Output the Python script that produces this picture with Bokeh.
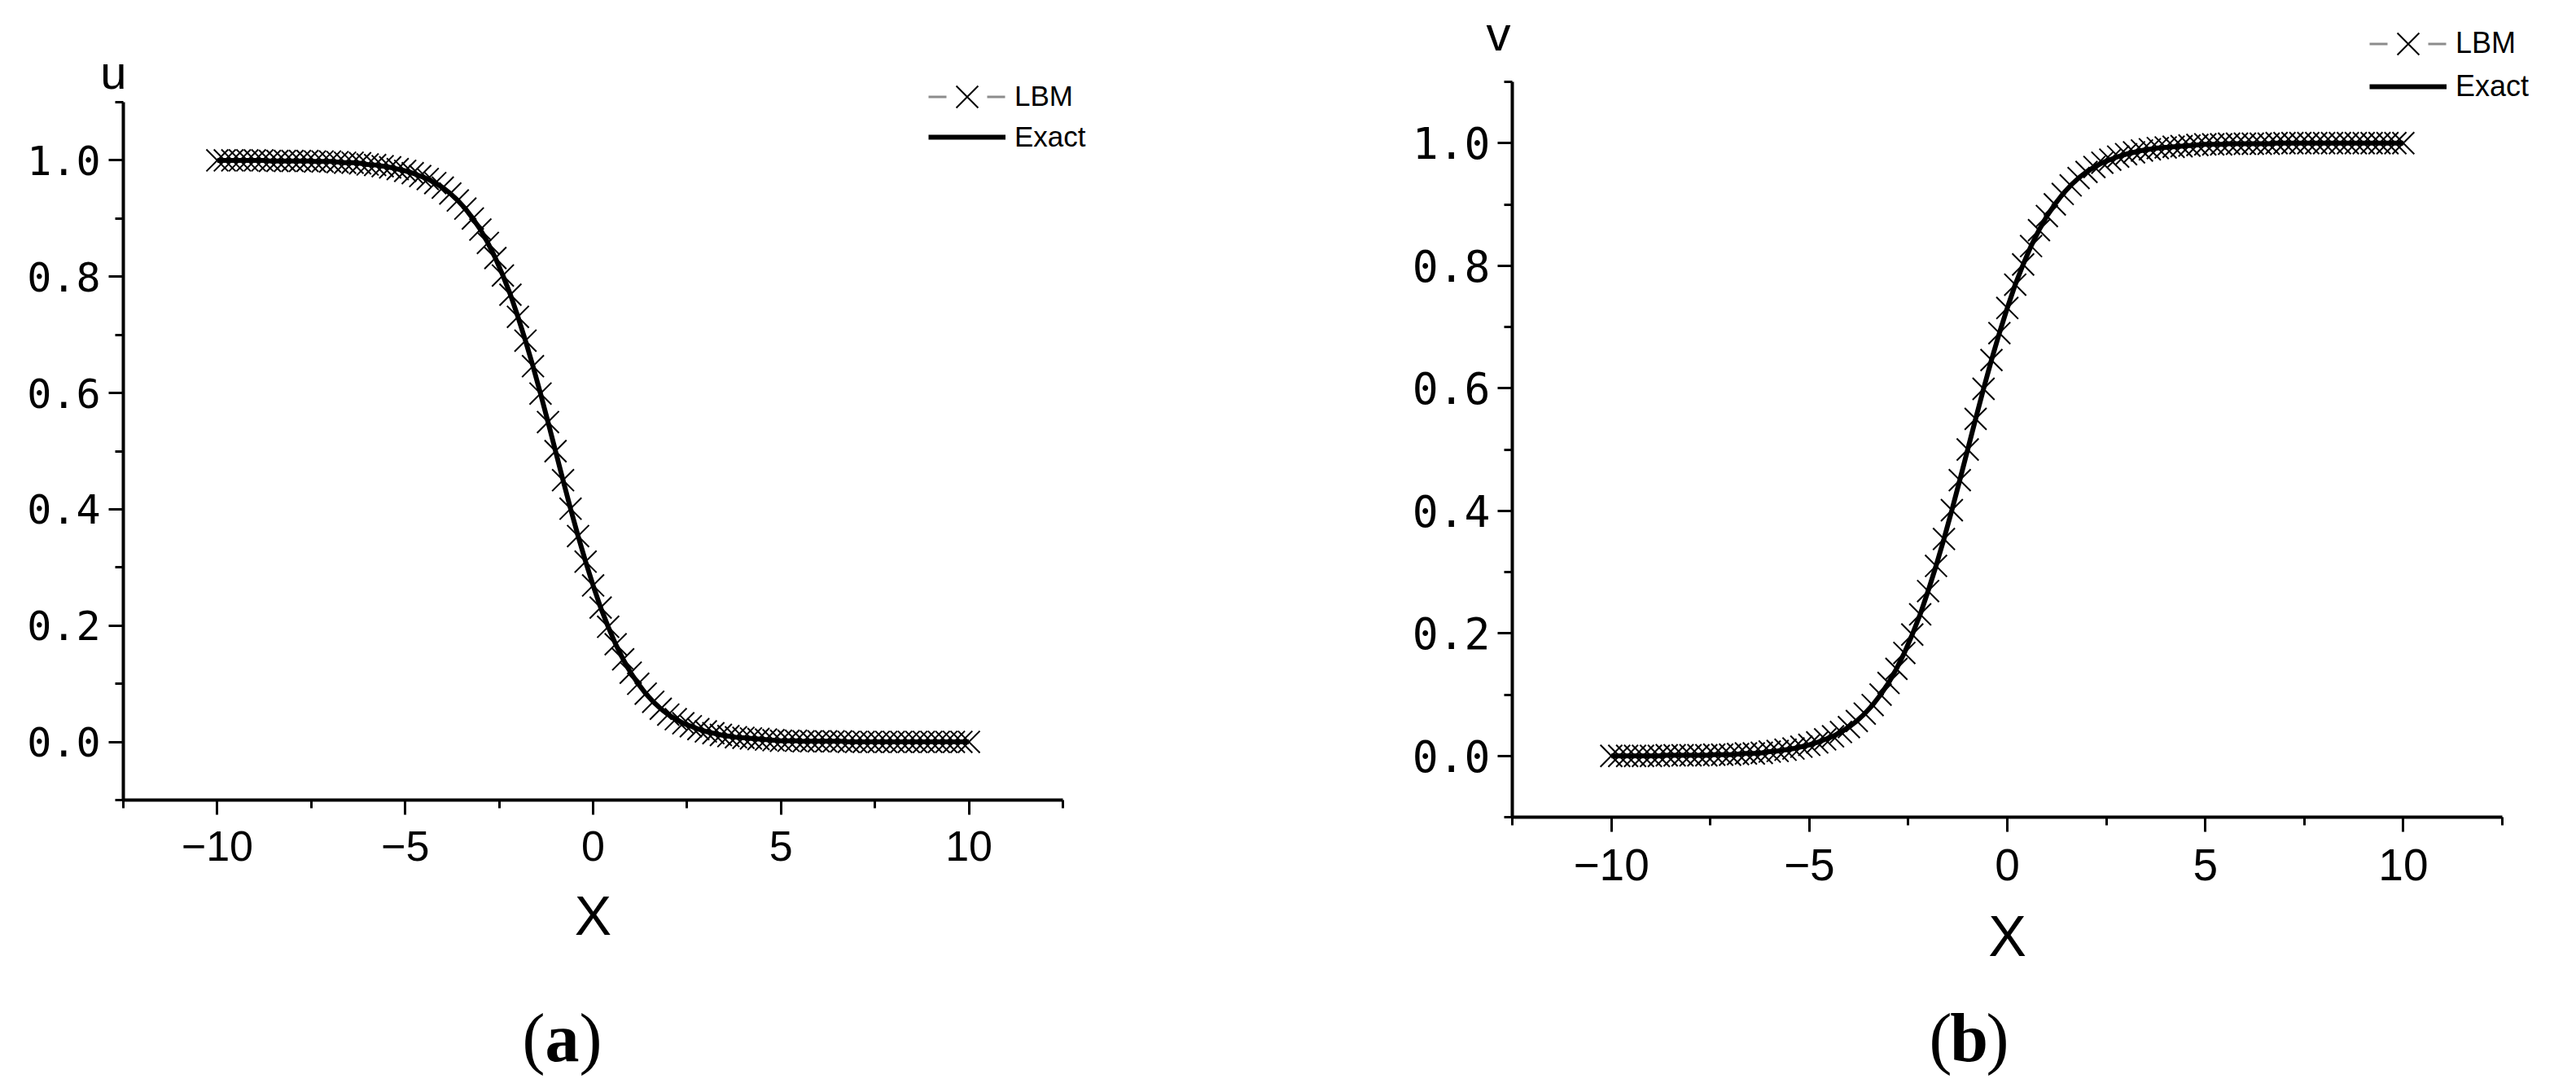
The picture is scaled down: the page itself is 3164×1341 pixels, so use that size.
import numpy as np
from bokeh.plotting import figure
from bokeh.models import (FixedTicker, CustomJSTickFormatter, Legend, LegendItem,
                          Label, Range1d, ColumnDataSource)
from bokeh.layouts import row
from bokeh.embed import file_html
from bokeh.resources import INLINE

# ---------------- data ----------------
x_vals = np.round(np.arange(-10.0, 10.0001, 0.2), 1)   # sampling grid, 101 points

u_vals = [1.000, 1.000, 1.000, 1.000, 1.000, 1.000, 1.000,
          0.999, 0.999, 0.999, 0.999, 0.999, 0.999,
          0.998, 0.998, 0.998, 0.997, 0.996, 0.996, 0.995, 0.993,
          0.992, 0.990, 0.988, 0.985, 0.982, 0.978, 0.973, 0.968, 0.961, 0.953,
          0.943, 0.931, 0.917, 0.900, 0.881, 0.858, 0.832, 0.802, 0.769, 0.731,
          0.690, 0.646, 0.599, 0.550, 0.500, 0.450, 0.401, 0.354, 0.310, 0.269,
          0.231, 0.198, 0.168, 0.142, 0.119, 0.100, 0.083, 0.069, 0.057, 0.047,
          0.039, 0.032, 0.027, 0.022, 0.018, 0.015, 0.012, 0.010, 0.008, 0.007,
          0.006, 0.005, 0.004, 0.003, 0.002, 0.002, 0.002, 0.001, 0.001, 0.001,
          0.001, 0.001, 0.001,
          0.000, 0.000, 0.000, 0.000, 0.000, 0.000, 0.000, 0.000, 0.000, 0.000,
          0.000, 0.000, 0.000, 0.000, 0.000, 0.000, 0.000]

v_vals = [0.000, 0.000, 0.000, 0.000, 0.000, 0.000, 0.000,
          0.001, 0.001, 0.001, 0.001, 0.001, 0.001,
          0.002, 0.002, 0.002, 0.003, 0.004, 0.004, 0.005, 0.007,
          0.008, 0.010, 0.012, 0.015, 0.018, 0.022, 0.027, 0.032, 0.039, 0.047,
          0.057, 0.069, 0.083, 0.100, 0.119, 0.142, 0.168, 0.198, 0.231, 0.269,
          0.310, 0.354, 0.401, 0.450, 0.500, 0.550, 0.599, 0.646, 0.690, 0.731,
          0.769, 0.802, 0.832, 0.858, 0.881, 0.900, 0.917, 0.931, 0.943, 0.953,
          0.961, 0.968, 0.973, 0.978, 0.982, 0.985, 0.988, 0.990, 0.992, 0.993,
          0.994, 0.995, 0.996, 0.997, 0.998, 0.998, 0.998, 0.999, 0.999, 0.999,
          0.999, 0.999, 0.999,
          1.000, 1.000, 1.000, 1.000, 1.000, 1.000, 1.000, 1.000, 1.000, 1.000,
          1.000, 1.000, 1.000, 1.000, 1.000, 1.000, 1.000]

x_major = [-10, -5, 0, 5, 10]
x_minor = [-12.5, -7.5, -2.5, 2.5, 7.5, 12.5]
y_major = [0.0, 0.2, 0.4, 0.6, 0.8, 1.0]
y_minor = [-0.1, 0.1, 0.3, 0.5, 0.7, 0.9, 1.1]
x_bounds = (-12.5, 12.5)
y_bounds = (-0.1, 1.1)
series = ["LBM", "Exact"]
x_title = "X"
panel_vars = ["u", "v"]
captions = ["a", "b"]

# ---------------- layout geometry (page pixels) ----------------
PAGE_TOP, PAGE_BOTTOM = 0, 1336


def make_panel(yv, var, cap, g):
    fx0, fx1 = g["fig_x"]
    W = fx1 - fx0
    H = PAGE_BOTTOM - PAGE_TOP
    ax0, ax1 = g["axis_x"]
    ay0, ay1 = g["axis_y"]          # top pixel, bottom pixel of the y axis
    sx = (ax1 - ax0) / (x_bounds[1] - x_bounds[0])
    sy = (ay1 - ay0) / (y_bounds[1] - y_bounds[0])
    xr = Range1d(x_bounds[0] - (ax0 - fx0) / sx, x_bounds[1] + (fx1 - ax1) / sx)
    yr = Range1d(y_bounds[0] - (PAGE_BOTTOM - ay1) / sy, y_bounds[1] + (ay0 - PAGE_TOP) / sy)

    def sxp(px):   # page px -> figure screen x
        return px - fx0

    def syp(py):   # page py -> figure screen y (from bottom)
        return PAGE_BOTTOM - py

    p = figure(width=W, height=H, x_range=xr, y_range=yr, title=None,
               min_border=0, output_backend="svg", toolbar_location=None)
    p.outline_line_color = None
    p.grid.visible = False
    p.background_fill_color = "white"
    p.border_fill_color = "white"

    # axes drawn at fixed data locations, limited by bounds
    p.xaxis.fixed_location = y_bounds[0]
    p.yaxis.fixed_location = x_bounds[0]
    p.xaxis.bounds = x_bounds
    p.yaxis.bounds = y_bounds
    p.xaxis.ticker = FixedTicker(ticks=x_major, minor_ticks=x_minor)
    p.yaxis.ticker = FixedTicker(ticks=y_major, minor_ticks=y_minor)
    p.yaxis.formatter = CustomJSTickFormatter(code="return tick.toFixed(1);")
    for ax in (p.xaxis[0], p.yaxis[0]):
        ax.axis_line_width = 4
        ax.axis_line_color = "black"
        ax.major_tick_line_width = 3
        ax.minor_tick_line_width = 3
        ax.major_tick_line_color = "black"
        ax.minor_tick_line_color = "black"
        ax.major_tick_in = 0
        ax.minor_tick_in = 0
        ax.major_tick_out = 18
        ax.minor_tick_out = 10
        ax.major_label_text_color = "black"
    p.xaxis.major_label_text_font = "Liberation Sans"
    p.xaxis.major_label_text_font_size = g["xtf"]
    p.xaxis.major_label_standoff = g["xls"]
    p.xaxis.axis_label = x_title
    p.xaxis.axis_label_text_font = "Liberation Sans"
    p.xaxis.axis_label_text_font_style = "normal"
    p.xaxis.axis_label_text_font_size = g["xlf"]
    p.xaxis.axis_label_standoff = g["xas"]
    p.xaxis.axis_label_text_color = "black"
    p.yaxis.major_label_text_font = "DejaVu Sans Mono"
    p.yaxis.major_label_text_font_size = g["ytf"]
    p.yaxis.major_label_standoff = g["yls"]

    # data
    lbm = p.scatter(x_vals, yv, marker="x", size=38, line_color="black",
                    line_width=2)
    exact = p.line(x_vals, yv, line_color="black", line_width=6)
    # legend-only grey dashed stroke of the LBM symbol (a single NaN point draws nothing)
    dash = p.line(x="x", y="y",
                  source=ColumnDataSource(data=dict(x=[np.nan], y=[np.nan])),
                  line_color="#8c8c8c", line_width=3, line_dash="22 50")

    # legend (two single-row legends so the marker can be large)
    lx = sxp(g["leg_x"])
    c1, c2 = g["leg_rows"]
    common = dict(padding=0, margin=0, spacing=0, label_standoff=11,
                  border_line_color=None, background_fill_alpha=0,
                  label_text_font="Liberation Sans", label_text_font_size=g["lf"],
                  label_text_color="black", glyph_width=95)
    leg1 = Legend(items=[LegendItem(label=series[0], renderers=[dash, lbm])],
                  location=(lx, syp(c1 + 47.5)), glyph_height=95, label_height=95,
                  **common)
    leg2 = Legend(items=[LegendItem(label=series[1], renderers=[exact])],
                  location=(lx, syp(c2 + 25)), glyph_height=50, label_height=50,
                  **common)
    p.add_layout(leg1)
    p.add_layout(leg2)

    # variable name above the y axis
    vx, vy = g["var_pos"]
    p.add_layout(Label(x=sxp(vx), y=syp(vy - 19), x_units="screen", y_units="screen",
                       text=var, text_align="right", text_baseline="alphabetic",
                       text_font="Liberation Sans", text_font_size=g["vf"],
                       text_color="black"))

    # caption with bold letter
    cx, cy = g["cap_pos"]
    cx, cy = sxp(cx), syp(cy - 24)
    cf = "84px"
    p.add_layout(Label(x=cx - 21, y=cy, x_units="screen", y_units="screen", text="(",
                       text_align="right", text_baseline="alphabetic",
                       text_font="Liberation Serif", text_font_size=cf, text_color="black"))
    p.add_layout(Label(x=cx, y=cy, x_units="screen", y_units="screen", text=cap,
                       text_align="center", text_baseline="alphabetic",
                       text_font="Liberation Serif", text_font_style="bold",
                       text_font_size=cf, text_color="black"))
    p.add_layout(Label(x=cx + 21, y=cy, x_units="screen", y_units="screen", text=")",
                       text_align="left", text_baseline="alphabetic",
                       text_font="Liberation Serif", text_font_size=cf, text_color="black"))
    return p


geo_a = dict(fig_x=(0, 1600), axis_x=(151, 1305), axis_y=(125, 982),
             xtf="52px", xls=20, xlf="68px", xas=26, ytf="50px", yls=10,
             lf="35px", leg_x=1140, leg_rows=(118, 168),
             var_pos=(155, 107), vf="58px", cap_pos=(690, 1298))
geo_b = dict(fig_x=(1600, 3164), axis_x=(1857, 3073), axis_y=(100, 1003),
             xtf="55px", xls=21, xlf="70px", xas=27, ytf="53px", yls=9,
             lf="36px", leg_x=2910, leg_rows=(53, 106),
             var_pos=(1855, 60), vf="60px", cap_pos=(2418, 1298))

pa = make_panel(u_vals, panel_vars[0], captions[0], geo_a)
pb = make_panel(v_vals, panel_vars[1], captions[1], geo_b)

layout = row(pa, pb)
open("out.html", "w").write(file_html(layout, INLINE))
